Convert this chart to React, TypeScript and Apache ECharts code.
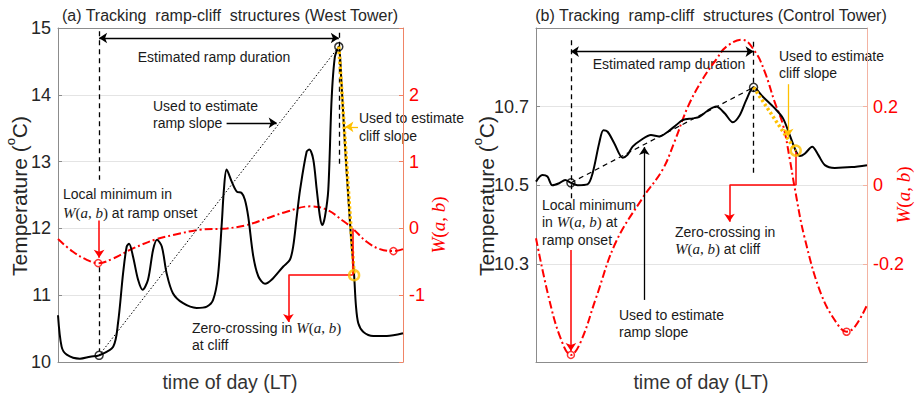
import React, { useEffect, useRef } from "react";
import * as echarts from "echarts";

const LS = "'Liberation Sans', Arial, sans-serif";
const SERIF = "'Liberation Serif', 'Times New Roman', serif";
const GRAY = "#8c8c8c";
const GRIDC = "#e4e4e4";
const RED = "#ff0000";
const SALMON_A = "#f08466";
const SALMON_B = "#f3b3a2";
const GOLD = "#FFC000";
const TXT = "#1a1a1a";

// ---------- Panel (a) West Tower (time in minutes) ----------
const timeA = [0, 1.2, 2.9, 7.3, 10.7, 13.7, 18.4, 20, 21.7, 22.9, 23.7, 25, 26.7, 28.2, 30, 31.7, 33, 34.6, 36.2, 38.3, 41.7, 46.2, 49.6, 51.7, 53.3, 54.6, 55.3, 56.2, 57.9, 59.6, 61.2, 62.3, 63.4, 65.1, 66.8, 69, 71.2, 75.1, 77.3, 78.4, 79.6, 80.7, 82.9, 83.8, 85.1, 86.2, 87.3, 88.1, 89, 90.1, 91.2, 92.3, 93.6, 94.4, 95.7, 96.8, 97.7, 98.7, 99.3, 100.1, 101.8, 105.1, 109.6, 115];
const tempA = [10.70, 10.23, 10.11, 10.05, 10.08, 10.10, 10.23, 10.58, 11.33, 11.73, 11.77, 11.58, 11.23, 11.08, 11.23, 11.68, 11.83, 11.73, 11.33, 11.03, 10.88, 10.81, 10.83, 10.93, 11.28, 12.08, 12.58, 12.88, 12.70, 12.55, 12.53, 12.43, 12.18, 11.58, 11.28, 11.17, 11.23, 11.43, 11.53, 11.73, 12.18, 12.58, 13.15, 13.18, 13.03, 12.60, 12.18, 12.05, 12.18, 12.58, 13.93, 14.57, 14.72, 14.25, 13.21, 12.45, 11.85, 11.30, 10.85, 10.58, 10.45, 10.39, 10.39, 10.43];
const wTimeA = [0, 5, 9.6, 13.4, 18.4, 25, 32.9, 38.4, 47.3, 56.2, 62.9, 69.6, 76.2, 84, 89.6, 95.1, 98.2, 102.9, 107.3, 111.8, 115];
const wA = [-0.16, -0.35, -0.47, -0.52, -0.45, -0.30, -0.16, -0.10, -0.02, 0.0, 0.05, 0.15, 0.25, 0.33, 0.28, 0.11, 0.0, -0.20, -0.31, -0.34, -0.31];
const rampPointsA = [[13.7, 10.10], [93.6, 14.72]];
const cliffPointA = [[98.7, 11.30]];
const wMinPointsA = [[13.4, -0.52], [111.8, -0.34]];
const tempTicksA = [10, 11, 12, 13, 14, 15];
const wTicksA = [-1, 0, 1, 2];

// ---------- Panel (b) Control Tower ----------
const timeB = [0, 2.1, 3.8, 5.4, 7.7, 9.7, 11.6, 13.8, 17.1, 18.8, 21, 22.4, 23.8, 26, 28.8, 30.4, 32.1, 34.9, 38.2, 41, 43.8, 46.6, 48.8, 52.1, 54.3, 57.1, 59.9, 62.7, 65.4, 67.7, 69.9, 72.3, 75.4, 79.3, 82.1, 84.3, 86.3, 87.7, 89.3, 91.8, 93.8, 96, 99.3, 104.9, 110];
const tempB = [10.509, 10.526, 10.522, 10.50, 10.505, 10.513, 10.506, 10.50, 10.502, 10.53, 10.607, 10.64, 10.636, 10.607, 10.57, 10.577, 10.598, 10.615, 10.628, 10.624, 10.636, 10.653, 10.666, 10.67, 10.674, 10.69, 10.70, 10.683, 10.66, 10.678, 10.717, 10.749, 10.725, 10.696, 10.67, 10.628, 10.588, 10.574, 10.58, 10.598, 10.577, 10.551, 10.544, 10.546, 10.551];
const wTimeB = [0, 4.3, 8.2, 11.6, 14.9, 19.9, 26.6, 35.4, 42.1, 46, 50.5, 55.4, 59.9, 63.2, 68.5, 72.8, 76, 79.3, 82.1, 84.3, 86, 89.3, 94.9, 100.4, 103.2, 106, 110];
const wB = [-0.135, -0.288, -0.39, -0.432, -0.398, -0.288, -0.144, -0.033, 0.04, 0.11, 0.2, 0.27, 0.32, 0.352, 0.37, 0.34, 0.289, 0.212, 0.153, 0.068, -0.008, -0.135, -0.28, -0.356, -0.373, -0.36, -0.305];
const rampPointsB = [[11.6, 10.506], [72.3, 10.749]];
const cliffPointB = [[86.3, 10.588]];
const wMinPointsB = [[11.6, -0.432], [103.2, -0.373]];
const tempTicksB = [10.3, 10.5, 10.7];
const wTicksB = [-0.2, 0, 0.2];

const zip = (xs: number[], ys: number[]) => xs.map((x, i) => [x, ys[i]]);

const dashBlack = { color: "#000", width: 1.3, type: [5, 4] };
const solidBlack = { color: "#000", width: 1.3, type: "solid" };
const redLine = { color: RED, width: 1.5, type: "solid" };
const goldDots = { color: GOLD, width: 3.5, type: [2.5, 2.5] };

const seg = (x1: number, y1: number, x2: number, y2: number, style: any, s1 = "none", s2 = "none") => [
  { coord: [x1, y1], symbol: s1, lineStyle: style },
  { coord: [x2, y2], symbol: s2 },
];

const annA = [
  seg(rampPointsA[0][0], 14.95, rampPointsA[0][0], 12.73, dashBlack),
  seg(rampPointsA[0][0], 11.42, rampPointsA[0][0], 10.16, dashBlack),
  seg(rampPointsA[1][0], 14.93, rampPointsA[1][0], 12.92, dashBlack),
  seg(rampPointsA[0][0], 14.85, rampPointsA[1][0], 14.85, solidBlack, "arrow", "arrow"),
  seg(rampPointsA[0][0], rampPointsA[0][1], rampPointsA[1][0], rampPointsA[1][1], { color: "#000", width: 1, type: [1.5, 2] }),
  seg(rampPointsA[1][0], rampPointsA[1][1], cliffPointA[0][0], cliffPointA[0][1], goldDots),
  seg(56.2, 13.58, 72.9, 13.58, solidBlack, "none", "arrow"),
  seg(100, 13.52, 95.8, 13.52, { color: GOLD, width: 1.3, type: "solid" }, "none", "arrow"),
  seg(rampPointsA[0][0], 12.12, rampPointsA[0][0], 11.56, redLine, "none", "arrow"),
  seg(98.2, 12.0, 98.2, 11.3, redLine),
  seg(98.2, 11.3, 76.8, 11.3, redLine),
  seg(76.8, 11.3, 76.8, 10.6, redLine, "none", "arrow"),
];

const annB = [
  seg(rampPointsB[0][0], 10.869, rampPointsB[0][0], 10.467, dashBlack),
  seg(rampPointsB[1][0], 10.865, rampPointsB[1][0], 10.522, dashBlack),
  seg(rampPointsB[0][0], 10.84, rampPointsB[1][0], 10.84, solidBlack, "arrow", "arrow"),
  seg(rampPointsB[0][0], rampPointsB[0][1], rampPointsB[1][0], rampPointsB[1][1], { color: "#000", width: 1.2, type: [5, 4] }),
  seg(rampPointsB[1][0], rampPointsB[1][1], cliffPointB[0][0], cliffPointB[0][1], goldDots),
  seg(83.8, 10.757, 83.8, 10.623, { color: GOLD, width: 1.3, type: "solid" }, "none", "arrow"),
  seg(86.3, 10.585, 86.3, 10.5, redLine),
  seg(86.3, 10.5, 64.3, 10.5, redLine),
  seg(64.3, 10.5, 64.3, 10.407, redLine, "none", "arrow"),
  seg(rampPointsB[0][0], 10.335, rampPointsB[0][0], 10.078, redLine, "none", "arrow"),
  seg(36, 10.208, 36, 10.597, solidBlack, "none", "arrow"),
];

function xAxes(grid: number, max: number) {
  const base = {
    type: "value",
    gridIndex: grid,
    min: 0,
    max,
    axisLine: { show: true, onZero: false, lineStyle: { color: GRAY, width: 1 } },
    axisTick: { show: false },
    axisLabel: { show: false },
    splitLine: { show: false },
  };
  return [
    { ...base, position: "bottom" },
    { ...base, position: "top" },
  ];
}

function leftAxis(grid: number, min: number, max: number, ticks: number[], interval?: number) {
  const ax: any = {
    type: "value",
    gridIndex: grid,
    position: "left",
    min,
    max,
    axisLine: { show: true, onZero: false, lineStyle: { color: GRAY, width: 1 } },
    axisTick: { show: true, inside: true, length: 4, lineStyle: { color: GRAY } },
    axisLabel: { color: "#262626", fontSize: 18, fontFamily: LS, margin: 7 },
    splitLine: { show: true, lineStyle: { color: GRIDC, width: 1 } },
  };
  if (interval) ax.interval = interval;
  else {
    ax.axisLabel.customValues = ticks;
    ax.axisTick.customValues = ticks;
  }
  return ax;
}

function rightAxis(grid: number, min: number, max: number, ticks: number[], color: string, interval?: number) {
  const ax: any = {
    type: "value",
    gridIndex: grid,
    position: "right",
    min,
    max,
    axisLine: { show: true, onZero: false, lineStyle: { color, width: 1 } },
    axisTick: { show: true, inside: true, length: 4, lineStyle: { color } },
    axisLabel: { color: RED, fontSize: 18, fontFamily: LS, margin: 6 },
    splitLine: { show: false },
  };
  if (interval) {
    ax.interval = interval;
    ax.axisLabel.formatter = (v: number) => (ticks.indexOf(v) >= 0 ? String(v) : "");
  } else {
    ax.axisLabel.customValues = ticks;
    ax.axisTick.customValues = ticks;
  }
  return ax;
}

const wRich = (fs: number, color: string, lh = 18) => ({
  n: { fontFamily: LS, fontSize: 14, fill: TXT, lineHeight: lh },
  i: { fontFamily: SERIF, fontStyle: "italic", fontSize: fs, fill: color, lineHeight: lh },
  p: { fontFamily: SERIF, fontSize: fs, fill: color, lineHeight: lh },
});
const W = "{i|W}{p|(}{i|a}{p|, }{i|b}{p|)}";

const plainText = (x: number, y: number, text: string, extra: any = {}) => ({
  type: "text",
  x,
  y,
  silent: true,
  style: { text, fontSize: 14, fontFamily: LS, fill: TXT, align: "left", verticalAlign: "top", lineHeight: 17, ...extra },
});

const richText = (x: number, y: number, text: string, lh: number) => ({
  type: "text",
  x,
  y,
  silent: true,
  style: { text, rich: wRich(15, TXT, lh), align: "left", verticalAlign: "top" },
});

const tempName = (x: number, y: number) => ({
  type: "text",
  x,
  y,
  rotation: Math.PI / 2,
  silent: true,
  style: {
    text: "{t|Temperature (}{s|o}{t|C)}",
    align: "center",
    verticalAlign: "middle",
    rich: {
      t: { fontFamily: LS, fontSize: 21, fill: "#262626", lineHeight: 26, verticalAlign: "bottom" },
      s: { fontFamily: LS, fontSize: 13, fill: "#262626", lineHeight: 26, verticalAlign: "top" },
    },
  },
});

const wName = (x: number, y: number) => ({
  type: "text",
  x,
  y,
  rotation: Math.PI / 2,
  silent: true,
  style: { text: W, align: "center", verticalAlign: "middle", rich: wRich(19, RED, 22) },
});

function buildOption(): any {
  const markLineBase = { silent: true, symbolSize: 8, label: { show: false }, emphasis: { disabled: true }, animation: false };
  const circle = (xi: number, yi: number, data: number[][], color: string, size: number, bw: number) => ({
    type: "scatter",
    xAxisIndex: xi,
    yAxisIndex: yi,
    data,
    symbol: "circle",
    symbolSize: size,
    silent: true,
    itemStyle: { color: "rgba(0,0,0,0)", borderColor: color, borderWidth: bw },
    z: 6,
  });
  return {
    animation: false,
    backgroundColor: "#ffffff",
    grid: [
      { left: 58, right: 513, top: 28, bottom: 34, outerBoundsMode: "none" },
      { left: 536, right: 49, top: 28, bottom: 34, outerBoundsMode: "none" },
    ],
    xAxis: [...xAxes(0, 115), ...xAxes(1, 110)],
    yAxis: [
      leftAxis(0, 10, 15, tempTicksA, 1),
      rightAxis(0, -2, 3, wTicksA, SALMON_A, 1),
      leftAxis(1, 10.05, 10.9, tempTicksB),
      rightAxis(1, -0.45, 0.4, wTicksB, SALMON_B),
    ],
    series: [
      {
        type: "line", xAxisIndex: 0, yAxisIndex: 1, data: zip(wTimeA, wA), smooth: 0.4, symbol: "none", silent: true,
        lineStyle: { color: RED, width: 2, type: [8, 3, 2, 3] }, z: 2,
      },
      {
        type: "line", xAxisIndex: 0, yAxisIndex: 0, data: zip(timeA, tempA), smooth: 0.3, symbol: "none", silent: true,
        lineStyle: { color: "#000", width: 2 }, z: 3,
        markLine: { ...markLineBase, data: annA },
      },
      circle(0, 0, rampPointsA, "#000", 8, 1.5),
      circle(0, 0, cliffPointA, GOLD, 10, 2.5),
      circle(0, 1, wMinPointsA, RED, 7, 1.5),
      {
        type: "line", xAxisIndex: 2, yAxisIndex: 3, data: zip(wTimeB, wB), smooth: 0.4, symbol: "none", silent: true,
        lineStyle: { color: RED, width: 2, type: [8, 3, 2, 3] }, z: 2,
      },
      {
        type: "line", xAxisIndex: 2, yAxisIndex: 2, data: zip(timeB, tempB), smooth: 0.3, symbol: "none", silent: true,
        lineStyle: { color: "#000", width: 2 }, z: 3,
        markLine: { ...markLineBase, data: annB },
      },
      circle(2, 2, rampPointsB, "#000", 8, 1.5),
      circle(2, 2, cliffPointB, GOLD, 10, 2.5),
      circle(2, 3, wMinPointsB, RED, 7, 1.5),
    ],
    graphic: {
      elements: [
        plainText(230, 15, "(a) Tracking  ramp-cliff  structures (West Tower)", { fontSize: 16, align: "center", verticalAlign: "middle", fill: "#262626" }),
        plainText(711, 15, "(b) Tracking  ramp-cliff  structures (Control Tower)", { fontSize: 16, align: "center", verticalAlign: "middle", fill: "#262626" }),
        tempName(17, 196),
        tempName(484, 196),
        wName(438, 225),
        wName(903, 195),
        plainText(230, 382, "time of day (LT)", { fontSize: 19.5, align: "center", verticalAlign: "middle", fill: "#333333" }),
        plainText(701, 382, "time of day (LT)", { fontSize: 19.5, align: "center", verticalAlign: "middle", fill: "#333333" }),
        // panel a annotations
        plainText(214, 57, "Estimated ramp duration", { align: "center", verticalAlign: "middle" }),
        plainText(153, 97, "Used to estimate\nramp slope"),
        plainText(359, 109, "Used to estimate\ncliff slope", { lineHeight: 18 }),
        richText(63, 184, "{n|Local minimum in}\n" + W + "{n| at ramp onset}", 19),
        richText(192, 319, "{n|Zero-crossing in }" + W + "\n{n|at cliff}", 17),
        // panel b annotations
        plainText(669, 64, "Estimated ramp duration", { align: "center", verticalAlign: "middle" }),
        plainText(779, 47, "Used to estimate\ncliff slope"),
        richText(675, 223, "{n|Zero-crossing in}\n" + W + "{n| at cliff}", 17),
        richText(542, 196, "{n|Local minimum}\n{n|in }" + W + "{n| at}\n{n|ramp onset}", 17.5),
        plainText(619, 306, "Used to estimate\nramp slope"),
      ],
    },
  };
}

export default function App() {
  const ref = useRef<HTMLDivElement>(null);
  useEffect(() => {
    if (!ref.current) return;
    const chart = echarts.init(ref.current, null, { renderer: "svg" });
    chart.setOption(buildOption());
    return () => chart.dispose();
  }, []);
  return (
    <div
      ref={ref}
      style={{ position: "absolute", left: 0, top: 0, width: 916, height: 396, background: "#fff" }}
    />
  );
}
